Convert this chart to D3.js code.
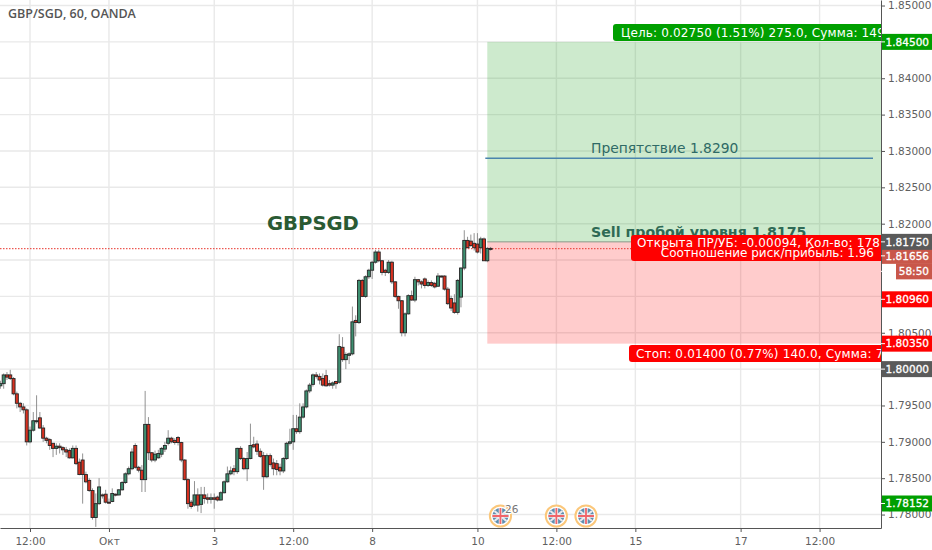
<!DOCTYPE html>
<html>
<head>
<meta charset="utf-8">
<script src="https://d3js.org/d3.v7.min.js"></script>
<style>
  html, body { margin: 0; padding: 0; background: #fff; }
  svg { display: block; }
  text { font-family: "DejaVu Sans", sans-serif; }
  .grid line { stroke: #e9e9e9; stroke-width: 1.4px; }
  .axis text { fill: #5f5f5f; font-size: 10.5px; }
  .axis path, .axis line { stroke: #555; }
  .badge text { fill: #fff; stroke: #fff; stroke-width: 0.3px; font-size: 10.5px; }
  .tag text { fill: #fff; font-size: 12px; letter-spacing: 0.16px; }
</style>
</head>
<body>
<svg id="chart" width="932" height="550"></svg>
<script>
// candles
const opens = [
  1.7977,1.7980,1.7992,1.7992,1.7987,1.7966,1.7953,1.7948,1.7944,1.7900,
  1.7916,1.7928,1.7933,1.7919,1.7905,1.7903,1.7898,1.7891,1.7894,1.7892,
  1.7889,1.7888,1.7878,1.7891,1.7872,1.7875,1.7855,1.7847,1.7833,1.7796,
  1.7815,1.7827,1.7828,1.7817,1.7818,1.7828,1.7827,1.7834,1.7844,1.7856,
  1.7863,1.7895,1.7865,1.7861,1.7848,1.7924,1.7885,1.7875,1.7878,1.7883,
  1.7890,1.7898,1.7905,1.7902,1.7906,1.7899,1.7875,1.7848,1.7817,1.7813,
  1.7827,1.7814,1.7827,1.7823,1.7821,1.7823,1.7824,1.7820,1.7830,1.7845,
  1.7856,1.7863,1.7859,1.7891,1.7877,1.7863,1.7877,1.7896,1.7897,1.7887,
  1.7881,1.7852,1.7881,1.7871,1.7870,1.7865,1.7860,1.7877,1.7898,1.7900,
  1.7918,1.7914,1.7934,1.7948,1.7970,1.7979,1.7992,1.7990,1.7987,1.7991,
  1.7980,1.7978,1.7983,1.7982,1.8030,1.8013,1.8019,1.8021,1.8067,1.8064,
  1.8122,1.8100,1.8127,1.8136,1.8147,1.8161,1.8149,1.8136,1.8133,1.8147,
  1.8120,1.8100,1.8094,1.8050,1.8076,1.8101,1.8095,1.8123,1.8120,1.8124,
  1.8115,1.8119,1.8118,1.8114,1.8128,1.8128,1.8110,1.8097,1.8091,1.8078,
  1.8099,1.8139,1.8177,1.8176,1.8173,1.8172,1.8167,1.8179,1.8149,1.8166
];
const highs = [
  1.7984,1.7994,1.7996,1.7999,1.7989,1.7969,1.7955,1.7953,1.7946,1.7921,
  1.7941,1.7964,1.7941,1.7923,1.7907,1.7905,1.7898,1.7898,1.7898,1.7894,
  1.7893,1.7891,1.7895,1.7895,1.7877,1.7884,1.7859,1.7850,1.7836,1.7829,
  1.7850,1.7829,1.7834,1.7822,1.7836,1.7829,1.7835,1.7846,1.7858,1.7866,
  1.7891,1.7898,1.7867,1.7868,1.7970,1.7934,1.7886,1.7888,1.7889,1.7893,
  1.7900,1.7916,1.7907,1.7905,1.7908,1.7900,1.7876,1.7850,1.7820,1.7846,
  1.7836,1.7838,1.7838,1.7829,1.7829,1.7829,1.7826,1.7832,1.7847,1.7866,
  1.7866,1.7868,1.7892,1.7894,1.7879,1.7886,1.7925,1.7907,1.7902,1.7891,
  1.7886,1.7884,1.7884,1.7877,1.7875,1.7870,1.7879,1.7900,1.7918,1.7937,
  1.7937,1.7953,1.7953,1.7972,1.7981,1.7994,1.7996,1.7994,1.7994,1.7999,
  1.7985,1.7983,1.7984,1.8048,1.8044,1.8023,1.8023,1.8086,1.8074,1.8124,
  1.8124,1.8129,1.8138,1.8149,1.8164,1.8164,1.8150,1.8138,1.8150,1.8149,
  1.8121,1.8101,1.8095,1.8078,1.8103,1.8108,1.8127,1.8124,1.8122,1.8126,
  1.8122,1.8122,1.8120,1.8132,1.8129,1.8129,1.8113,1.8101,1.8103,1.8124,
  1.8140,1.8191,1.8182,1.8185,1.8187,1.8187,1.8182,1.8181,1.8168,1.8168
];
const lows = [
  1.7973,1.7973,1.7985,1.7985,1.7964,1.7946,1.7941,1.7939,1.7895,1.7898,
  1.7914,1.7925,1.7918,1.7900,1.7898,1.7889,1.7879,1.7882,1.7884,1.7882,
  1.7879,1.7877,1.7877,1.7868,1.7854,1.7815,1.7843,1.7831,1.7793,1.7783,
  1.7813,1.7822,1.7815,1.7815,1.7817,1.7825,1.7826,1.7833,1.7842,1.7854,
  1.7861,1.7863,1.7858,1.7831,1.7831,1.7875,1.7872,1.7872,1.7877,1.7879,
  1.7886,1.7895,1.7898,1.7896,1.7895,1.7872,1.7847,1.7808,1.7808,1.7811,
  1.7804,1.7802,1.7815,1.7815,1.7815,1.7808,1.7818,1.7819,1.7829,1.7844,
  1.7854,1.7854,1.7856,1.7875,1.7861,1.7846,1.7876,1.7891,1.7882,1.7878,
  1.7834,1.7850,1.7866,1.7854,1.7854,1.7854,1.7857,1.7875,1.7895,1.7889,
  1.7911,1.7911,1.7932,1.7946,1.7967,1.7976,1.7987,1.7979,1.7976,1.7976,
  1.7976,1.7973,1.7973,1.7980,1.8010,1.8000,1.8007,1.8019,1.8045,1.8062,
  1.8099,1.8098,1.8124,1.8124,1.8145,1.8147,1.8129,1.8128,1.8131,1.8117,
  1.8098,1.8083,1.8045,1.8045,1.8075,1.8094,1.8092,1.8115,1.8111,1.8111,
  1.8113,1.8113,1.8111,1.8113,1.8126,1.8108,1.8088,1.8080,1.8076,1.8075,
  1.8085,1.8136,1.8166,1.8168,1.8163,1.8159,1.8159,1.8149,1.8147,1.8163
];
const closes = [
  1.7980,1.7992,1.7989,1.7987,1.7966,1.7953,1.7948,1.7944,1.7900,1.7916,
  1.7929,1.7929,1.7919,1.7905,1.7902,1.7895,1.7891,1.7894,1.7892,1.7889,
  1.7886,1.7878,1.7891,1.7870,1.7855,1.7855,1.7845,1.7833,1.7796,1.7815,
  1.7838,1.7826,1.7817,1.7816,1.7829,1.7827,1.7834,1.7844,1.7856,1.7863,
  1.7886,1.7865,1.7861,1.7848,1.7924,1.7885,1.7875,1.7883,1.7884,1.7891,
  1.7895,1.7905,1.7900,1.7899,1.7899,1.7875,1.7848,1.7815,1.7811,1.7827,
  1.7813,1.7827,1.7822,1.7821,1.7823,1.7821,1.7820,1.7830,1.7845,1.7856,
  1.7860,1.7859,1.7891,1.7877,1.7863,1.7877,1.7895,1.7893,1.7887,1.7880,
  1.7852,1.7881,1.7869,1.7863,1.7862,1.7860,1.7877,1.7898,1.7900,1.7918,
  1.7914,1.7934,1.7948,1.7970,1.7978,1.7992,1.7990,1.7985,1.7978,1.7977,
  1.7978,1.7981,1.7980,1.8031,1.8013,1.8020,1.8021,1.8065,1.8064,1.8122,
  1.8100,1.8127,1.8136,1.8147,1.8161,1.8149,1.8133,1.8133,1.8147,1.8120,
  1.8100,1.8094,1.8050,1.8076,1.8101,1.8095,1.8123,1.8120,1.8117,1.8115,
  1.8119,1.8115,1.8113,1.8128,1.8127,1.8110,1.8090,1.8084,1.8078,1.8122,
  1.8139,1.8177,1.8167,1.8170,1.8167,1.8161,1.8179,1.8149,1.8166,1.8165
];

// bottom axis
const timeTicks = [9, 33, 65, 89, 113, 145, 169, 193, 225, 249];
const timeLabels = ["12:00", "Окт", "3", "12:00", "8", "10", "12:00", "15", "17", "12:00"];

// right axis, tick labels that sit under a price badge are not drawn
const priceTicks = [1.78, 1.785, 1.79, 1.795, 1.80, 1.805, 1.81, 1.815, 1.82, 1.825, 1.83, 1.835, 1.84, 1.845, 1.85];
const coveredTicks = [1.80, 1.81, 1.815, 1.845];

// trade levels
const targetPrice = 1.845;
const entryPrice = 1.8175;
const stopPrice = 1.8035;
const lastPrice = 1.81656;
const obstaclePrice = 1.829;
const alertPrice = 1.8096;
const roundPrice = 1.80;
const dayLowPrice = 1.78152;
const tradeStartBar = 148;

// news icons
const eventBars = [152, 169, 178];

const svg = d3.select("#chart");
const plotW = 881, plotH = 528;

const x = d3.scaleLinear().domain([-0.12, 267.67]).range([0, plotW]);
const y = d3.scaleLinear().domain([1.77815, 1.85076]).range([plotH, 0]);

svg.append("defs").append("clipPath").attr("id", "plot")
  .append("rect").attr("width", plotW).attr("height", plotH);

// grid
const grid = svg.append("g").attr("class", "grid");
grid.selectAll(".v").data(timeTicks).join("line").attr("class", "v")
  .attr("x1", d => x(d)).attr("x2", d => x(d)).attr("y1", 0).attr("y2", plotH);
grid.selectAll(".h").data(priceTicks).join("line").attr("class", "h")
  .attr("x1", 0).attr("x2", plotW).attr("y1", d => y(d)).attr("y2", d => y(d));

const plot = svg.append("g").attr("clip-path", "url(#plot)");

// target / stop boxes
plot.append("rect")
  .attr("x", x(tradeStartBar)).attr("width", plotW - x(tradeStartBar))
  .attr("y", y(targetPrice)).attr("height", y(entryPrice) - y(targetPrice))
  .attr("fill", "#2fa82f").attr("fill-opacity", 0.24);
plot.append("rect")
  .attr("x", x(tradeStartBar)).attr("width", plotW - x(tradeStartBar))
  .attr("y", y(entryPrice)).attr("height", y(stopPrice) - y(entryPrice))
  .attr("fill", "#ff0000").attr("fill-opacity", 0.2);
plot.append("line")
  .attr("x1", x(tradeStartBar)).attr("x2", plotW)
  .attr("y1", y(entryPrice)).attr("y2", y(entryPrice))
  .attr("stroke", "#8a9a8a").attr("stroke-width", 1);

// last price line
plot.append("line")
  .attr("x1", 0).attr("x2", plotW)
  .attr("y1", y(lastPrice)).attr("y2", y(lastPrice))
  .attr("stroke", "#e8332a").attr("stroke-width", 1).attr("stroke-dasharray", "1.5 1.5");

// candles
const bars = d3.range(opens.length);
const candles = plot.append("g");
candles.selectAll(".wick").data(bars).join("line").attr("class", "wick")
  .attr("x1", i => x(i)).attr("x2", i => x(i))
  .attr("y1", i => y(highs[i])).attr("y2", i => y(lows[i]))
  .attr("stroke", "#777").attr("stroke-opacity", 0.8).attr("stroke-width", 1);
candles.selectAll(".body").data(bars).join("rect").attr("class", "body")
  .attr("x", i => x(i) - 1.5).attr("width", 3)
  .attr("y", i => y(Math.max(opens[i], closes[i])))
  .attr("height", i => Math.max(1, Math.abs(y(opens[i]) - y(closes[i]))))
  .attr("fill", i => closes[i] >= opens[i] ? "#3d8f70" : "#d8301f")
  .attr("stroke", "#262626").attr("stroke-width", 0.9);

// drawings
plot.append("line")
  .attr("x1", x(tradeStartBar) - 2).attr("x2", 873)
  .attr("y1", y(obstaclePrice)).attr("y2", y(obstaclePrice))
  .attr("stroke", "#4a84ad").attr("stroke-width", 1.3);
plot.append("text").attr("x", 591).attr("y", 153)
  .attr("font-size", 13.85).attr("fill", "#2f6a66")
  .text("Препятствие 1.8290");
plot.append("text").attr("x", 267).attr("y", 230)
  .attr("font-size", 19.6).attr("font-weight", "bold").attr("fill", "#2a5a33")
  .text("GBPSGD");
plot.append("text").attr("x", 591).attr("y", 237)
  .attr("font-size", 14.2).attr("font-weight", "bold").attr("fill", "#2f6a55")
  .text("Sell пробой уровня 1.8175");

// trade tags
function tag(left, top, h, fill) {
  const g = plot.append("g").attr("class", "tag");
  g.append("rect").attr("x", left).attr("y", top).attr("rx", 3)
    .attr("width", plotW + 10 - left).attr("height", h).attr("fill", fill);
  return g;
}
tag(613, 24, 17, "#009f00").append("text").attr("x", 621).attr("y", 36.5)
  .text("Цель: 0.02750 (1.51%) 275.0, Сумма: 149");
tag(629, 345, 17, "#ff0000").append("text").attr("x", 636).attr("y", 357.5)
  .text("Стоп: 0.01400 (0.77%) 140.0, Сумма: 7");
const openTag = tag(631, 235, 26, "#ff0000");
openTag.append("text").attr("x", 637).attr("y", 247)
  .text("Открыта ПР/УБ: -0.00094, Кол-во: 178");
openTag.append("text").attr("x", 874).attr("y", 257.4).attr("text-anchor", "end")
  .style("letter-spacing", "0px")
  .text("Соотношение риск/прибыль: 1.96");

// news icons
const icons = plot.selectAll(".icon").data(eventBars).join("g").attr("class", "icon")
  .attr("transform", d => `translate(${x(d)},516)`);
icons.append("circle").attr("r", 10.6).attr("fill", "#fff")
  .attr("stroke", "#fbc77a").attr("stroke-width", 2);
icons.append("circle").attr("r", 8).attr("fill", "#5f8fb0");
icons.append("path").attr("d", "M-6,-5L6,5M-6,5L6,-5").attr("stroke", "#e8e8ee").attr("stroke-width", 2.2);
icons.append("path").attr("d", "M-8,0H8M0,-8V8").attr("stroke", "#f4f4f4").attr("stroke-width", 3.4);
icons.append("path").attr("d", "M-8,0H8M0,-8V8").attr("stroke", "#f0646a").attr("stroke-width", 1.8);
plot.append("text").attr("x", 505).attr("y", 513)
  .attr("font-size", 10.5).attr("fill", "#777")
  .attr("stroke", "#fff").attr("stroke-width", 2).attr("paint-order", "stroke")
  .text("26");

// axes
svg.append("g").attr("class", "axis")
  .attr("transform", `translate(0,${plotH})`)
  .call(d3.axisBottom(x).tickValues(timeTicks).tickSize(4).tickSizeOuter(0).tickPadding(6)
    .tickFormat((d, i) => timeLabels[i]));
svg.append("g").attr("class", "axis")
  .attr("transform", `translate(${plotW},0)`)
  .call(d3.axisRight(y).tickValues(priceTicks).tickSize(4).tickSizeOuter(0).tickPadding(3)
    .tickFormat(d => coveredTicks.includes(d) ? "" : d3.format(".5f")(d)));

// price badges
function badge(cy, label, fill, left) {
  const g = svg.append("g").attr("class", "badge");
  g.append("rect").attr("x", left).attr("y", cy - 8).attr("width", 932 - left).attr("height", 16).attr("fill", fill);
  g.append("line").attr("x1", plotW).attr("x2", plotW + 4).attr("y1", cy).attr("y2", cy).attr("stroke", "#fff");
  g.append("text").attr("x", 929).attr("y", cy + 3.8).attr("text-anchor", "end").text(label);
}
const fmt = d3.format(".5f");
badge(y(targetPrice), fmt(targetPrice), "#009f00", plotW + 1);
badge(y(roundPrice), fmt(roundPrice), "#5a5a5a", plotW + 1);
badge(y(dayLowPrice), fmt(dayLowPrice), "#009f00", plotW + 1);
badge(y(alertPrice), fmt(alertPrice), "#ff0000", plotW + 1);
badge(y(stopPrice), fmt(stopPrice), "#ff0000", plotW + 1);
badge(y(entryPrice) + 14, fmt(lastPrice), "#c9574a", plotW + 1);
badge(y(entryPrice) + 29.5, "58:50", "#c9574a", 896);
badge(y(entryPrice), fmt(entryPrice), "#5a5a5a", plotW + 1);

// title
svg.append("text").attr("x", 8).attr("y", 18)
  .attr("font-size", 12.5).attr("font-weight", 600).attr("fill", "#555")
  .style("font-family", "'Open Sans', sans-serif")
  .text("GBP/SGD, 60, OANDA");
</script>
</body>
</html>
